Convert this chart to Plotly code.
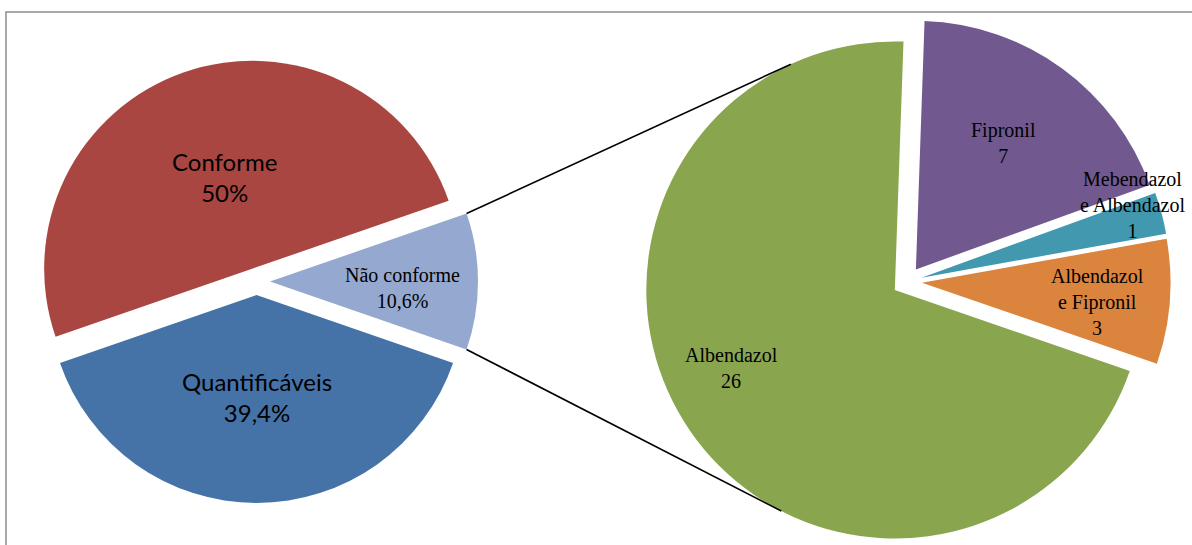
import math
import plotly.graph_objects as go

W, H = 1192, 545

# ---------------- data ----------------
main_labels = ["Não conforme", "Quantificáveis", "Conforme"]
main_values = [10.6, 39.4, 50.0]
sub_labels = ["Fipronil", "Mebendazol<br>e Albendazol", "Albendazol<br>e Fipronil", "Albendazol"]
sub_values = [7, 1, 3, 26]

# ---------------- styles ----------------
main_colors = ["#95A9D0", "#4572A7", "#AA4642"]
sub_colors = ["#71588F", "#4198AF", "#DB843D", "#89A54E"]
main_fonts = [("Liberation Serif", 20), ("Lato", 24), ("Lato", 24)]
sub_font = ("Liberation Serif", 20)
# label placement: (fraction of radius from slice apex, angle offset deg)
main_label_pos = [(0.64, 3.0), (0.49, 0.0), (0.46, 2.6)]
sub_label_pos = [(0.62, -1.3), (0.90, -4.0), (0.71, 1.8), (0.73, 9.0)]

main_pull, sub_pull = 0.065, 0.06
main_dom = dict(x=[0.0, 0.4304], y=[0.0771, 0.8899])
sub_dom = dict(x=[0.54, 0.982], y=[0.0, 0.967])

main_rotation = 90 - 360 * main_values[0] / sum(main_values) / 2
sub_rotation = 2


def pie_geom(dom, pull):
    aw = W * (dom["x"][1] - dom["x"][0])
    ah = H * (dom["y"][1] - dom["y"][0])
    r = min(aw, ah) / 2 / (1 + pull)
    cx = W * (dom["x"][0] + dom["x"][1]) / 2
    cy = H * (1 - dom["y"][0]) - ah / 2
    return cx, cy, r


def slices(values, rotation, cx, cy, r, pull):
    tot = sum(values)
    a = rotation
    out = []
    for v in values:
        span = 360 * v / tot
        mid = a + span / 2
        ax = cx + pull * r * math.sin(math.radians(mid))
        ay = cy - pull * r * math.cos(math.radians(mid))
        out.append(dict(a0=a, a1=a + span, mid=mid, ax=ax, ay=ay))
        a += span
    return out


fig = go.Figure()
fig.add_trace(go.Pie(
    labels=main_labels, values=main_values, sort=False, direction="clockwise",
    rotation=main_rotation, pull=main_pull, domain=main_dom,
    marker=dict(colors=main_colors, line=dict(width=0)),
    textinfo="none", showlegend=False,
))
fig.add_trace(go.Pie(
    labels=[l.replace("<br>", " ") for l in sub_labels], values=sub_values, sort=False,
    direction="clockwise", rotation=sub_rotation, pull=sub_pull, domain=sub_dom,
    marker=dict(colors=sub_colors, line=dict(width=0)),
    textinfo="none", showlegend=False,
))

mcx, mcy, mr = pie_geom(main_dom, main_pull)
scx, scy, sr = pie_geom(sub_dom, sub_pull)
msl = slices(main_values, main_rotation, mcx, mcy, mr, main_pull)
ssl = slices(sub_values, sub_rotation, scx, scy, sr, sub_pull)

annotations = []


def fmt_pct(v):
    s = ("%.1f" % v).rstrip("0").rstrip(".")
    return s.replace(".", ",") + "%"


for i, s in enumerate(msl):
    f, off = main_label_pos[i]
    ang = math.radians(s["mid"] + off)
    px = s["ax"] + f * mr * math.sin(ang)
    py = s["ay"] - f * mr * math.cos(ang)
    fam, size = main_fonts[i]
    annotations.append(dict(
        x=px / W, y=1 - py / H, xref="paper", yref="paper", showarrow=False,
        text=main_labels[i] + "<br>" + fmt_pct(main_values[i]),
        font=dict(family=fam, size=size, color="#000000"), align="center",
        xanchor="center", yanchor="middle"))

for i, s in enumerate(ssl):
    f, off = sub_label_pos[i]
    ang = math.radians(s["mid"] + off)
    px = s["ax"] + f * sr * math.sin(ang)
    py = s["ay"] - f * sr * math.cos(ang)
    annotations.append(dict(
        x=px / W, y=1 - py / H, xref="paper", yref="paper", showarrow=False,
        text=sub_labels[i] + "<br>" + str(sub_values[i]),
        font=dict(family=sub_font[0], size=sub_font[1], color="#000000"), align="center",
        xanchor="center", yanchor="middle"))

# connector lines: tangents from the "Não conforme" outer corners to the secondary pie
nc = msl[0]
g = ssl[-1]
gx, gy = g["ax"], g["ay"]
shapes = []
for k, a in enumerate([nc["a0"], nc["a1"]]):
    px = nc["ax"] + mr * math.sin(math.radians(a))
    py = nc["ay"] - mr * math.cos(math.radians(a))
    d = math.hypot(px - gx, py - gy)
    phi = math.atan2(py - gy, px - gx)
    alpha = math.acos(min(1.0, sr / d))
    cands = [(gx + sr * math.cos(phi + s * alpha), gy + sr * math.sin(phi + s * alpha)) for s in (1, -1)]
    tx, ty = (min if k == 0 else max)(cands, key=lambda t: t[1])
    shapes.append(dict(type="line", xref="paper", yref="paper",
                       x0=px / W, y0=1 - py / H, x1=tx / W, y1=1 - ty / H,
                       line=dict(color="#000000", width=1.6)))

# outer frame (partly cut off)
shapes.append(dict(type="rect", xref="paper", yref="paper",
                   x0=6 / W, x1=1.05, y0=-0.05, y1=1 - 12 / H,
                   line=dict(color="#8c8c8c", width=1.5), fillcolor="rgba(0,0,0,0)", layer="below"))

fig.update_layout(
    width=W, height=H, margin=dict(l=0, r=0, t=0, b=0),
    paper_bgcolor="#ffffff", plot_bgcolor="#ffffff",
    annotations=annotations, shapes=shapes, showlegend=False,
)

fig.write_html("out.html")
